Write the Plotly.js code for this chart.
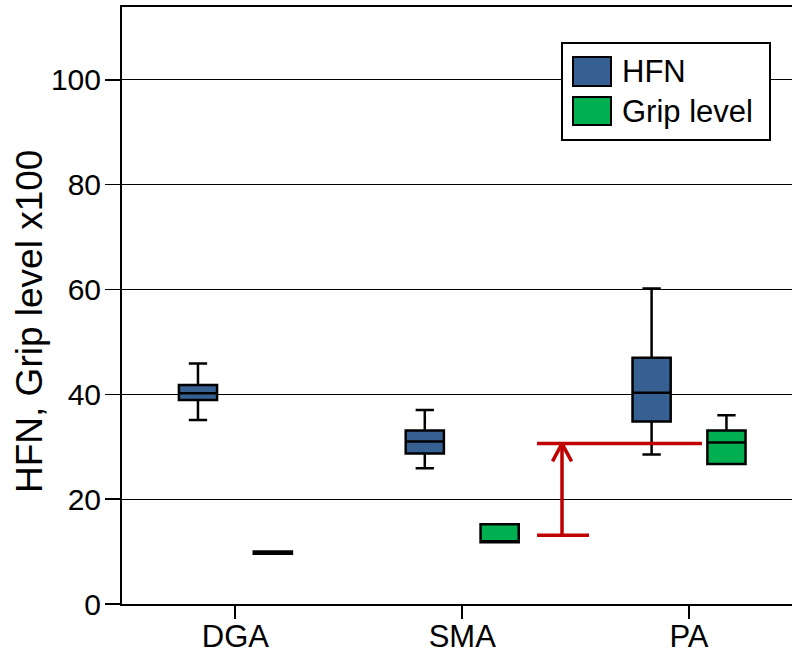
<!DOCTYPE html>
<html><head><meta charset="utf-8">
<script src="https://cdn.plot.ly/plotly-3.0.1.min.js"></script>
<style>html,body{margin:0;padding:0;background:#fff}#chart{width:792px;height:653px}</style>
</head><body><div id="chart"></div>
<script>
// ---- data ----
const categories = ['DGA', 'SMA', 'PA'];
const catPos = [0, 1, 2];
const hfnLower  = [35.1, 25.9, 28.5];
const hfnQ1     = [38.9, 28.7, 34.8];
const hfnMedian = [40.2, 31.0, 40.3];
const hfnQ3     = [41.8, 33.1, 47.0];
const hfnUpper  = [45.9, 37.0, 60.2];
const gripLower  = [9.6, 11.8, 26.7];
const gripQ1     = [9.6, 11.8, 26.7];
const gripMedian = [9.8, 11.8, 30.8];
const gripQ3     = [10.0, 15.2, 33.1];
const gripUpper  = [10.0, 15.2, 36.0];
const yTicks = [0, 20, 40, 60, 80, 100];
const seriesNames = ['HFN', 'Grip level'];
// red comparison marker (from SMA grip level up to PA grip level)
const compLow = 13.1, compHigh = 30.6;
const compX = 1.44;
const compTopX = [1.33, 2.057];
const compBottomX = [1.33, 1.559];
const headDx = 0.042, headDy = 3.4;

// ---- styling ----
const FONT = 'Liberation Sans, Arial, sans-serif';
const W = 792, H = 653, ML = 122, MR = 0, MT = 7, MB = 49;
const PW = W - ML - MR, PH = H - MT - MB;
const px = v => (v - ML) / PW;
const py = v => (H - MB - v) / PH;
const colors = ['#376092', '#00b050'];
const red = '#c00000';

const boxCommon = {
  type: 'box', x: catPos, boxpoints: false, showlegend: false,
  line: {color: '#000', width: 2.5}, whiskerwidth: 0.48, hoverinfo: 'skip'
};
const traces = [
  Object.assign({}, boxCommon, {name: seriesNames[0], q1: hfnQ1, median: hfnMedian, q3: hfnQ3,
    lowerfence: hfnLower, upperfence: hfnUpper, fillcolor: colors[0]}),
  Object.assign({}, boxCommon, {name: seriesNames[1], q1: gripQ1, median: gripMedian, q3: gripQ3,
    lowerfence: gripLower, upperfence: gripUpper, fillcolor: colors[1]}),
  {
    type: 'scatter', mode: 'lines', showlegend: false, hoverinfo: 'skip',
    x: [compTopX[0], compTopX[1], null, compBottomX[0], compBottomX[1], null, compX, compX, null,
        compX - headDx, compX, compX + headDx],
    y: [compHigh, compHigh, null, compLow, compLow, null, compLow, compHigh, null,
        compHigh - headDy, compHigh, compHigh - headDy],
    line: {color: red, width: 3.5}
  }
];

const shapes = [
  {type: 'rect', xref: 'paper', yref: 'paper', x0: px(562), x1: px(770), y0: py(140), y1: py(43),
   line: {color: '#000', width: 2}, fillcolor: '#fff', layer: 'above'},
  {type: 'rect', xref: 'paper', yref: 'paper', x0: px(573), x1: px(611), y0: py(86), y1: py(57),
   line: {color: '#000', width: 2}, fillcolor: colors[0], layer: 'above'},
  {type: 'rect', xref: 'paper', yref: 'paper', x0: px(573), x1: px(611), y0: py(125), y1: py(97),
   line: {color: '#000', width: 2}, fillcolor: colors[1], layer: 'above'}
];
const annotations = [
  {xref: 'paper', yref: 'paper', x: px(620), y: py(71.5), xanchor: 'left', yanchor: 'middle',
   text: seriesNames[0], showarrow: false, font: {family: FONT, size: 31, color: '#000'}},
  {xref: 'paper', yref: 'paper', x: px(620), y: py(111), xanchor: 'left', yanchor: 'middle',
   text: seriesNames[1], showarrow: false, font: {family: FONT, size: 31, color: '#000'}},
  {xref: 'paper', yref: 'paper', x: px(29), y: py(322), xanchor: 'center', yanchor: 'middle',
   textangle: -90, text: 'HFN, Grip level x100', showarrow: false,
   font: {family: FONT, size: 37, color: '#000'}}
];

const layout = {
  width: W, height: H, margin: {l: ML, r: MR, t: MT, b: MB, pad: 0},
  paper_bgcolor: '#fff', plot_bgcolor: '#fff',
  font: {family: FONT, size: 31, color: '#000'},
  boxmode: 'group', boxgap: 0.34, boxgroupgap: 0.49,
  showlegend: false,
  xaxis: {
    type: 'linear', range: [-0.5, 2.454], tickvals: catPos, ticktext: categories,
    showgrid: false, zeroline: false, showline: true, mirror: true, linecolor: '#000', linewidth: 2,
    ticks: 'outside', ticklen: 13, tickwidth: 2, tickcolor: '#000', ticklabelstandoff: -9,
    tickfont: {family: FONT, size: 31, color: '#000'}, fixedrange: true
  },
  yaxis: {
    range: [0, 113.9], tickvals: yTicks, ticktext: yTicks.map(String),
    showgrid: true, gridcolor: '#000', gridwidth: 1, zeroline: false,
    showline: true, linecolor: '#000', linewidth: 2,
    ticks: 'outside', ticklen: 15, tickwidth: 1.5, tickcolor: '#000', ticklabelstandoff: -2,
    tickfont: {family: FONT, size: 30, color: '#000'}, fixedrange: true
  },
  shapes: shapes, annotations: annotations
};
Plotly.newPlot('chart', traces, layout, {staticPlot: true, displayModeBar: false});
</script></body></html>
